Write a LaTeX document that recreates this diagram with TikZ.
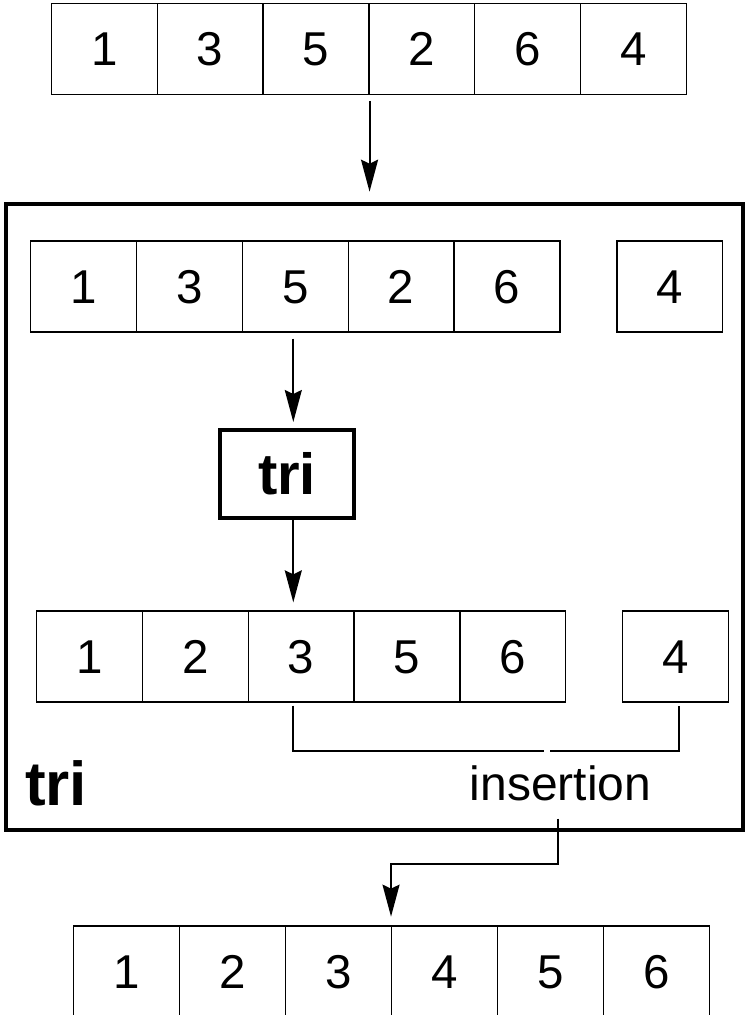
\documentclass[tikz,border=0pt]{standalone}
\usepackage{fontspec}
\setmainfont{Liberation Sans}
\usetikzlibrary{arrows.meta,calc}
\begin{document}
\begin{tikzpicture}[x=1pt,y=-1pt,
  cell/.style={draw, line width=1.3pt, minimum width=105.8pt, minimum height=91pt,
    inner sep=0pt, text height=34pt, text depth=0pt, font=\fontsize{47.5}{50}\selectfont},
  arr/.style={line width=2pt, -{Stealth[length=32pt,width=17pt,inset=4pt]}},
  brk/.style={line width=2pt},
  ]
\clip (0,0) rectangle (747,1015);
% top array
\foreach \v [count=\i] in {1,3,5,2,6,4}
  \node[cell] (t\i) at ({104.4+105.8*(\i-1)},48.7) {\v};
% frame
\node[draw, line width=4pt, minimum width=737pt, minimum height=626.3pt, inner sep=0pt] (frame) at (374.5,516.85) {};
% inner array 1
\foreach \v [count=\i] in {1,3,5,2,6}
  \node[cell] (a\i) at ({83.5+105.9*(\i-1)},286.5) {\v};
\node[cell] (a6) at (669.8,286.5) {4};
% tri box
\node[draw, line width=4pt, minimum width=134pt, minimum height=88pt, inner sep=0pt,
  font=\bfseries\fontsize{58}{60}\selectfont] (tri) at (287,474) {tri};
% inner array 2
\foreach \v [count=\i] in {1,2,3,5,6}
  \node[cell] (c\i) at ({89.6+105.8*(\i-1)},656.5) {\v};
\node[cell] (c6) at (675.7,656.5) {4};
% labels
\node[anchor=base west, inner sep=0pt, font=\bfseries\fontsize{62}{64}\selectfont] (lbl) at (25,805) {tri};
\node[anchor=base, inner sep=0pt, font=\fontsize{48}{50}\selectfont] (ins) at (560.5,800) {insertion};
% bottom array
\foreach \v [count=\i] in {1,2,3,4,5,6}
  \node[cell, minimum width=105.95pt] (b\i) at ({126.8+105.95*(\i-1)},971.5) {\v};
% arrows
\draw[arr, shorten <=6pt, shorten >=10pt] (t3.south east) -- (t3.south east |- frame.north);
\coordinate (ax) at (293.3,0);
\draw[arr, shorten <=6pt, shorten >=6pt] (ax |- a3.south) -- (ax |- tri.north);
\draw[arr, shorten >=8pt] (ax |- tri.south) -- (ax |- c3.north);
% bracket
\coordinate (bl) at (293,751);
\coordinate (bm1) at (543.8,751);
\coordinate (bm2) at (550,751);
\coordinate (br) at (678.6,751);
\draw[brk] ($(c3.south -| bl)+(0,3)$) -- (bl) -- (bm1);
\draw[brk] (bm2) -- (br) -- ($(c6.south -| br)+(0,3)$);
% output connector
\coordinate (k) at (558,864);
\draw[arr, shorten >=8.7pt] ($(k |- ins.south)+(0,18)$) -- (k) -| (b4.north west);
\end{tikzpicture}
\end{document}
